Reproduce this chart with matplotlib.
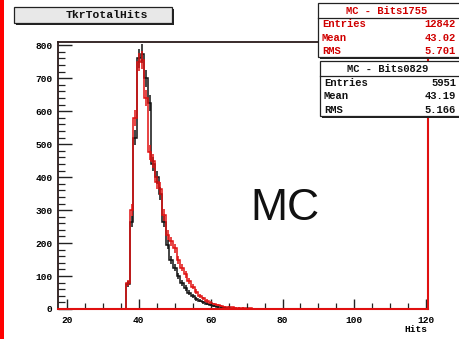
import numpy as np
import matplotlib
matplotlib.use("Agg")
import matplotlib.pyplot as plt
from matplotlib.patches import Rectangle
from matplotlib.lines import Line2D

# ---------------- data ----------------
first_bin = 37  # centre of first filled bin (unit-width bins centred on integers)
red_counts = [80, 300, 580, 750, 755, 640, 475, 450, 385, 365, 285, 225, 205, 185,
              150, 125, 105, 85, 68, 52, 40, 32, 24, 19, 15, 12, 9, 7, 6, 5, 4, 3,
              3, 2, 2, 1, 1, 1]
black_counts = [75, 265, 520, 760, 775, 700, 625, 440, 400, 350, 265, 195, 150, 125,
                100, 80, 64, 50, 40, 30, 25, 20, 16, 12, 9, 7, 5, 3, 2, 1, 1]

title_text = "TkrTotalHits"
red_stats = ["MC - Bits1755", ("Entries", "12842"), ("Mean", "43.02"), ("RMS", "5.701")]
black_stats = ["MC - Bits0829", ("Entries", "5951"), ("Mean", "43.19"), ("RMS", "5.166")]
x_ticks = [20, 40, 60, 80, 100, 120]
y_ticks = [0, 100, 200, 300, 400, 500, 600, 700, 800]
x_label = "Hits"
big_label = "MC"

# ---------------- figure ----------------
W, H = 459, 339
fig = plt.figure(figsize=(W / 100, H / 100), dpi=100)
fig.patch.set_facecolor("white")

def fx(x):
    return x / W

def fy(y):
    return 1 - y / H

ax_l, ax_r, ax_t, ax_b = 58, 428, 42, 309
ax = fig.add_axes([fx(ax_l), fy(ax_b), fx(ax_r) - fx(ax_l), fy(ax_t) - fy(ax_b)])

xmin, xmax = 17.5, 120.5
edges_all = np.arange(xmin, xmax + 0.001, 1.0)
centers_all = 0.5 * (edges_all[:-1] + edges_all[1:])

def full(vals):
    arr = np.zeros(len(centers_all))
    i0 = int(round(first_bin - centers_all[0]))
    arr[i0:i0 + len(vals)] = vals
    return arr

red = full(red_counts)
blk = full(black_counts)

RED = "#e01010"
BLK = "#111111"

ax.stairs(blk, edges_all, color=BLK, lw=1.1, baseline=0)
ax.stairs(red, edges_all, color=RED, lw=1.1, baseline=0)
for vals, col in ((blk, BLK), (red, RED)):
    m = vals > 0
    ax.vlines(centers_all[m], vals[m] - np.sqrt(vals[m]), vals[m] + np.sqrt(vals[m]),
              color=col, lw=1.1)

ax.set_xlim(xmin, xmax)
ax.set_ylim(0, 810)

for s in ("left", "top"):
    ax.spines[s].set_color("#2a1a1a")
    ax.spines[s].set_linewidth(1.3)
ax.spines["bottom"].set_color(RED)
ax.spines["bottom"].set_linewidth(1.5)
ax.spines["right"].set_color(RED)
ax.spines["right"].set_linewidth(1.5)

mono = {"family": "Liberation Mono", "weight": "bold"}
ax.set_xticks(x_ticks)
ax.set_yticks(y_ticks)
ax.set_xticks(np.arange(20, 121, 5), minor=True)
ax.set_yticks(np.arange(0, 801, 20), minor=True)
ax.tick_params(which="major", direction="in", length=7, width=1.0, color="#222222",
               top=False, right=False)
ax.tick_params(which="minor", direction="in", length=4, width=0.9, color="#222222",
               top=False, right=False)
ax.tick_params(axis="y", which="major", length=10)
ax.tick_params(axis="y", which="minor", length=5)
ax.set_xticklabels([str(t) for t in x_ticks], fontdict=mono, fontsize=6.8)
ax.set_yticklabels([str(t) for t in y_ticks], fontdict=mono, fontsize=6.8)
ax.tick_params(axis="x", pad=5)
ax.tick_params(axis="y", pad=4)

fig.text(fx(427), fy(329), x_label, ha="right", va="center", fontsize=6.8, **mono)

ax.text(0.612, 0.375, big_label, transform=ax.transAxes, ha="center", va="center",
        fontsize=32, family="Liberation Sans", color="#111111")

# left red stripe
fig.add_artist(Rectangle((0, 0), fx(4), 1, transform=fig.transFigure,
                         facecolor="#ff0000", edgecolor="none"))

# title box with shadow
def box(x0, y0, x1, y1, face, shadow=2):
    fig.add_artist(Rectangle((fx(x0 + shadow), fy(y1 + shadow)), fx(x1 - x0), fy(y0) - fy(y1),
                             transform=fig.transFigure, facecolor="#222222", edgecolor="none"))
    fig.add_artist(Rectangle((fx(x0), fy(y1)), fx(x1 - x0), fy(y0) - fy(y1),
                             transform=fig.transFigure, facecolor=face,
                             edgecolor="#222222", lw=0.9))

box(14, 7, 172, 23, "#e8e8e8")
fig.text(fx(107), fy(15.5), title_text, ha="center", va="center", fontsize=8.2,
         color="#111111", **mono)

def statbox(x0, y0, y1, stats, col):
    box(x0, y0, W + 5, y1, "white", shadow=2)
    row_h = (y1 - y0) / 4
    fig.add_artist(Line2D([fx(x0), 1], [fy(y0 + row_h + 1)] * 2, transform=fig.transFigure,
                          color="#222222", lw=0.9))
    fig.text(fx((x0 + W) / 2 - 2), fy(y0 + row_h / 2 + 1), stats[0], ha="center",
             va="center", fontsize=7.6, color=col, **mono)
    for i, (k, v) in enumerate(stats[1:]):
        yc = y0 + row_h * (i + 1.5) + 1
        fig.text(fx(x0 + 4), fy(yc), k, ha="left", va="center", fontsize=7.6, color=col, **mono)
        fig.text(fx(456), fy(yc), v, ha="right", va="center", fontsize=7.6, color=col, **mono)

statbox(318, 3, 57, red_stats, "#d00000")
statbox(320, 61, 116, black_stats, "#111111")

fig.savefig("out.png", dpi=100)
